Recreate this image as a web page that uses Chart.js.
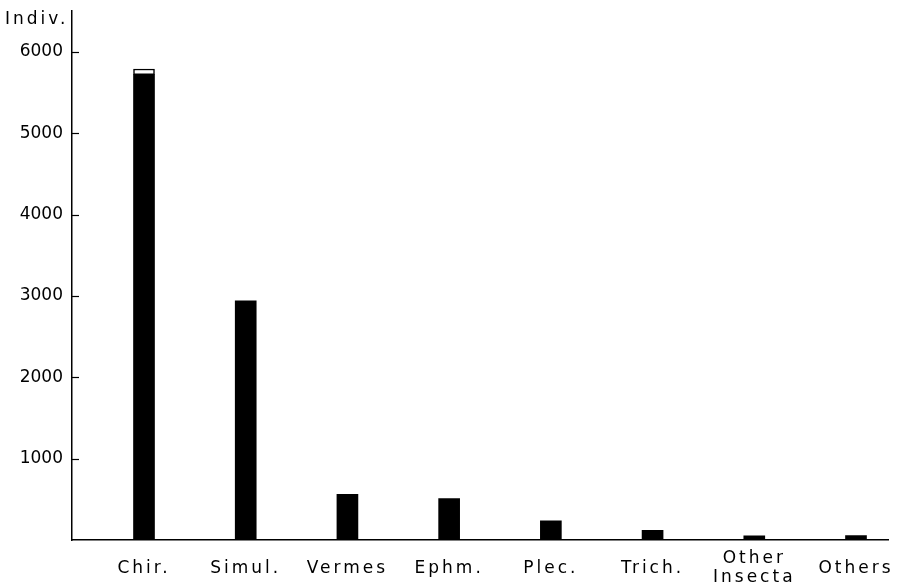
<!DOCTYPE html>
<html>
<head>
<meta charset="utf-8">
<script src="https://cdn.jsdelivr.net/npm/chart.js@4"></script>
<style>
html,body{margin:0;padding:0;background:#fff;}
#wrap{width:907px;height:585px;}
</style>
</head>
<body>
<div id="wrap"><canvas id="c" width="907" height="585"></canvas></div>
<script>
const categories = ['Chir.', 'Simul.', 'Vermes', 'Ephm.', 'Plec.', 'Trich.', ['Other', 'Insecta'], 'Others'];
const mainValues = [5720, 2940, 560, 510, 235, 118, 50, 55];
const topValues = [70, null, null, null, null, null, null, null];
const yTickValues = [1000, 2000, 3000, 4000, 5000, 6000];
const yLabel = 'Indiv.';

const FONT = '"DejaVu Sans", sans-serif';

const decor = {
  id: 'decor',
  afterDatasetsDraw(chart) {
    chart.ctx.letterSpacing = '3px';
  },
  afterDraw(chart) {
    const ctx = chart.ctx;
    ctx.letterSpacing = '0px';
    const y = chart.scales.y;
    ctx.save();
    ctx.strokeStyle = '#000';
    ctx.lineWidth = 1.2;
    yTickValues.forEach(v => {
      const py = Math.round(y.getPixelForValue(v)) + 0.5;
      ctx.beginPath();
      ctx.moveTo(y.right, py);
      ctx.lineTo(y.right + 7, py);
      ctx.stroke();
    });
    ctx.fillStyle = '#000';
    ctx.font = '17px ' + FONT;
    ctx.letterSpacing = '3px';
    ctx.textAlign = 'left';
    ctx.textBaseline = 'alphabetic';
    ctx.fillText(yLabel, 5, 24);
    ctx.restore();
    ctx.letterSpacing = '0px';
  }
};

new Chart(document.getElementById('c'), {
  type: 'bar',
  data: {
    datasets: [
      {
        data: mainValues.map((v, i) => ({x: i, y: v})),
        backgroundColor: '#000',
        borderWidth: 0,
        barThickness: 21
      },
      {
        data: topValues.map((v, i) => ({x: i, y: v})),
        backgroundColor: '#fff',
        borderColor: '#000',
        borderWidth: 1.5,
        borderSkipped: false,
        barThickness: 21
      }
    ]
  },
  options: {
    responsive: false,
    animation: false,
    devicePixelRatio: 1,
    layout: {padding: {top: 3, right: 19, left: 0, bottom: 0}},
    plugins: {legend: {display: false}, tooltip: {enabled: false}, title: {display: false}},
    scales: {
      x: {
        type: 'linear',
        stacked: true,
        min: -0.7079,
        max: 7.3146,
        offset: false,
        grid: {display: false, z: 1},
        border: {display: true, color: '#000', width: 1.5, z: 1},
        afterBuildTicks: s => { s.ticks = categories.map((c, i) => ({value: i})); },
        afterFit: s => { s.height = 45; },
        ticks: {
          z: 1,
          autoSkip: false,
          maxRotation: 0,
          minRotation: 0,
          padding: 11,
          crossAlign: 'center',
          color: '#000',
          font: {family: FONT, size: 17, lineHeight: 1.12},
          callback: v => categories[v]
        }
      },
      y: {
        stacked: true,
        min: 0,
        max: 6500,
        grid: {display: false},
        border: {display: true, color: '#000', width: 1.5},
        afterBuildTicks: s => { s.ticks = yTickValues.map(v => ({value: v})); },
        afterFit: s => { s.width = 72; },
        ticks: {
          padding: 1,
          color: '#000',
          font: {family: FONT, size: 17},
          callback: v => String(v)
        }
      }
    }
  },
  plugins: [decor]
});
</script>
</body>
</html>
